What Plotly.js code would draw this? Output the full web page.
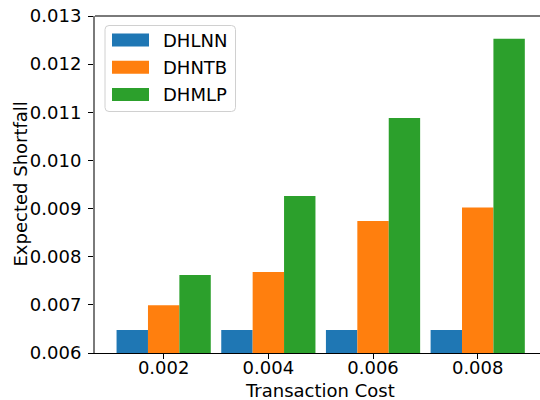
<!DOCTYPE html>
<html>
<head>
<meta charset="utf-8">
<script src="https://cdn.plot.ly/plotly-3.0.1.min.js"></script>
<style>html,body{margin:0;padding:0;background:#fff;}#chart{width:540px;height:400px;}</style>
</head>
<body>
<div id="chart"></div>
<script>
// ---- data ----
const categories = ["0.002", "0.004", "0.006", "0.008"];
const seriesNames = ["DHLNN", "DHNTB", "DHMLP"];
const dhlnn = [0.00648, 0.00648, 0.00648, 0.00648];
const dhntb = [0.00699, 0.00768, 0.00874, 0.00902];
const dhmlp = [0.00762, 0.00926, 0.01088, 0.01253];
const yTicks = [0.006, 0.007, 0.008, 0.009, 0.010, 0.011, 0.012, 0.013];
const xTitle = "Transaction Cost";
const yTitle = "Expected Shortfall";

// ---- styles ----
const colors = ["#1f77b4", "#ff7f0e", "#2ca02c"];
const FONT = "DejaVu Sans, Liberation Sans, sans-serif";
const W = 540, H = 400;
const L = 95, R = 0, T = 16, B = 47;
const pw = W - L - R, ph = H - T - B;
const px = x => (x - L) / pw;
const py = y => (H - B - y) / ph;

const values = [dhlnn, dhntb, dhmlp];
const traces = values.map((v, i) => ({
  type: "bar",
  x: categories,
  y: v,
  name: seriesNames[i],
  marker: {color: colors[i], line: {width: 0}},
  hoverinfo: "skip"
}));

// custom legend
const shapes = [];
const annotations = [];
(function(){
  const x0 = px(105), x1 = px(235.5), y0 = py(111.5), y1 = py(25.5);
  const rx = 4 / pw, ry = 4 / ph;
  const path = `M ${x0+rx},${y1} L ${x1-rx},${y1} Q ${x1},${y1} ${x1},${y1-ry} L ${x1},${y0+ry} Q ${x1},${y0} ${x1-rx},${y0} L ${x0+rx},${y0} Q ${x0},${y0} ${x0},${y0+ry} L ${x0},${y1-ry} Q ${x0},${y1} ${x0+rx},${y1} Z`;
  shapes.push({type: "path", xref: "paper", yref: "paper", path: path,
    line: {color: "#d0d0d0", width: 1}, fillcolor: "rgba(255,255,255,0.8)", layer: "above"});
})();
seriesNames.forEach((n, i) => {
  const cy = 40 + i * 27.2;
  shapes.push({type: "rect", xref: "paper", yref: "paper",
    x0: px(112), x1: px(149), y0: py(cy + 6.5), y1: py(cy - 6.5),
    fillcolor: colors[i], line: {width: 0}, layer: "above"});
  annotations.push({xref: "paper", yref: "paper", x: px(161), y: py(cy), text: n,
    showarrow: false, xanchor: "left", yanchor: "middle",
    font: {family: FONT, size: 18, color: "#000"}});
});
// top spine
shapes.push({type: "line", xref: "paper", yref: "paper", x0: 0, x1: 1, y0: 1, y1: 1,
  line: {color: "#7a7a7a", width: 2}, layer: "above"});
// axis titles
annotations.push({xref: "paper", yref: "paper", x: px(320), y: py(391), text: xTitle,
  showarrow: false, xanchor: "center", yanchor: "middle",
  font: {family: FONT, size: 18, color: "#000"}});
annotations.push({xref: "paper", yref: "paper", x: px(20), y: 0.5, text: yTitle,
  textangle: -90, showarrow: false, xanchor: "center", yanchor: "middle",
  font: {family: FONT, size: 18, color: "#000"}});

const layout = {
  width: W, height: H,
  margin: {l: L, r: R, t: T, b: B, pad: 0},
  paper_bgcolor: "#fff", plot_bgcolor: "#fff",
  font: {family: FONT, size: 18, color: "#000"},
  showlegend: false,
  barmode: "group",
  bargap: 0.1,
  bargroupgap: 0,
  xaxis: {
    type: "category",
    range: [-0.656, 3.595],
    showgrid: false, zeroline: false,
    showline: true, linecolor: "#000", linewidth: 1,
    ticks: "outside", ticklen: 5, tickwidth: 1, tickcolor: "#000",
    tickfont: {family: FONT, size: 18, color: "#000"},
    ticklabelstandoff: -7
  },
  yaxis: {
    range: [0.006, 0.013],
    tickvals: yTicks,
    tickformat: ".3f",
    showgrid: false, zeroline: false,
    showline: true, linecolor: "#7a7a7a", linewidth: 2,
    ticks: "outside", ticklen: 5, tickwidth: 1, tickcolor: "#000",
    tickfont: {family: FONT, size: 18, color: "#000"},
    ticklabelstandoff: 3
  },
  shapes: shapes,
  annotations: annotations
};

Plotly.newPlot("chart", traces, layout, {staticPlot: true, displayModeBar: false});
</script>
</body>
</html>
